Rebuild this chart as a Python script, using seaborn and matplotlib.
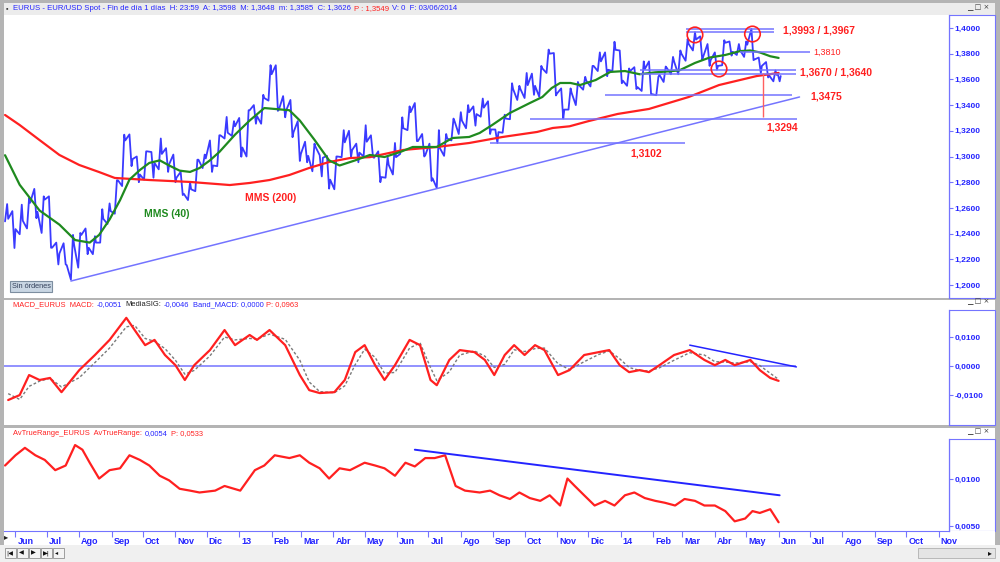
import matplotlib
matplotlib.use('Agg')
import matplotlib.pyplot as plt
import matplotlib.transforms as mtransforms
from matplotlib.patches import Rectangle
from matplotlib.ticker import FuncFormatter
import pandas as pd
import seaborn as sns

sns.set_style('white')
plt.rcParams['font.family'] = ['Liberation Sans', 'DejaVu Sans']

# ---- weekly bars EUR/USD ----
week_end = pd.date_range('2012-05-25', '2014-05-30', freq='W-FRI').append(pd.DatetimeIndex(['2014-06-03']))
week_high = [
    1.2630,
    1.2575, 1.2625, 1.2675, 1.2748, 1.2690,
    1.2690, 1.2330, 1.2325, 1.2390,
    1.2405, 1.2440, 1.2380, 1.2590, 1.2635,
    1.2815, 1.3170, 1.3172, 1.3000,
    1.3040, 1.3035, 1.3140, 1.3065,
    1.3015, 1.2880, 1.2800, 1.2975, 1.3015,
    1.3125, 1.3165, 1.3308, 1.3275,
    1.3300, 1.3360, 1.3400, 1.3480,
    1.3711, 1.3710, 1.3470, 1.3440,
    1.3275, 1.3115, 1.3100, 1.3010, 1.3005,
    1.3000, 1.3205, 1.3200, 1.3100,
    1.3243, 1.3165, 1.3040, 1.2995, 1.3105,
    1.3305, 1.3390, 1.3416, 1.3175,
    1.3100, 1.3205, 1.3175, 1.3295,
    1.3345, 1.3400, 1.3390, 1.3451, 1.3430,
    1.3210, 1.3325, 1.3570, 1.3550,
    1.3650, 1.3645, 1.3705, 1.3832,
    1.3805, 1.3530, 1.3530, 1.3580, 1.3620,
    1.3705, 1.3810, 1.3810, 1.3893,
    1.3825, 1.3685, 1.3695, 1.3740, 1.3740,
    1.3620, 1.3700, 1.3775, 1.3825,
    1.3915, 1.3967, 1.3935, 1.3875,
    1.3810, 1.3905, 1.3895, 1.3875,
    1.3895, 1.3993, 1.3770, 1.3735, 1.3670,
    1.3650,
]
week_low = [
    1.2495,
    1.2288, 1.2395, 1.2440, 1.2520, 1.2405,
    1.2290, 1.2160, 1.2160, 1.2042,
    1.2135, 1.2240, 1.2240, 1.2330, 1.2475,
    1.2555, 1.2770, 1.2925, 1.2800,
    1.2820, 1.2835, 1.2900, 1.2880,
    1.2800, 1.2700, 1.2661, 1.2730, 1.2910,
    1.2880, 1.2925, 1.3140, 1.3160,
    1.2998, 1.3000, 1.3255, 1.3255,
    1.3435, 1.3355, 1.3305, 1.3150,
    1.2965, 1.2955, 1.2885, 1.2845, 1.2750,
    1.2745, 1.2995, 1.2995, 1.2955,
    1.3000, 1.2995, 1.2800, 1.2835, 1.2860,
    1.3020, 1.3205, 1.3120, 1.3000,
    1.2810, 1.2755, 1.3005, 1.3125,
    1.3175, 1.3220, 1.3240, 1.3310, 1.3175,
    1.3105, 1.3185, 1.3290, 1.3440,
    1.3455, 1.3480, 1.3465, 1.3650,
    1.3475, 1.3295, 1.3365, 1.3400, 1.3520,
    1.3545, 1.3665, 1.3625, 1.3665,
    1.3570, 1.3550, 1.3525, 1.3510, 1.3485,
    1.3477, 1.3580, 1.3640, 1.3640,
    1.3745, 1.3825, 1.3750, 1.3705,
    1.3675, 1.3710, 1.3785, 1.3790,
    1.3775, 1.3750, 1.3650, 1.3615, 1.3585,
    1.3585,
]
week_close = [
    1.2515,
    1.2435, 1.2500, 1.2640, 1.2570, 1.2665,
    1.2290, 1.2245, 1.2155, 1.2315,
    1.2390, 1.2290, 1.2330, 1.2515, 1.2575,
    1.2815, 1.3125, 1.2980, 1.2860,
    1.3040, 1.2950, 1.3020, 1.2940,
    1.2835, 1.2710, 1.2745, 1.2975, 1.2985,
    1.2930, 1.3165, 1.3185, 1.3235,
    1.3070, 1.3360, 1.3315, 1.3455,
    1.3640, 1.3365, 1.3360, 1.3190,
    1.3020, 1.3005, 1.3075, 1.2990, 1.2820,
    1.3000, 1.3110, 1.3050, 1.3030,
    1.3115, 1.2990, 1.2840, 1.2935, 1.2995,
    1.3220, 1.3345, 1.3120, 1.3010,
    1.2830, 1.3065, 1.3140, 1.3275,
    1.3280, 1.3345, 1.3330, 1.3380, 1.3210,
    1.3190, 1.3295, 1.3525, 1.3525,
    1.3555, 1.3550, 1.3685, 1.3800,
    1.3490, 1.3365, 1.3495, 1.3555, 1.3590,
    1.3705, 1.3740, 1.3675, 1.3830,
    1.3590, 1.3665, 1.3540, 1.3680, 1.3485,
    1.3635, 1.3690, 1.3740, 1.3800,
    1.3875, 1.3910, 1.3780, 1.3750,
    1.3705, 1.3885, 1.3815, 1.3830,
    1.3870, 1.3755, 1.3705, 1.3630, 1.3635,
    1.3626,
]

# ---- moving averages ----
mms40_dates = [
    '2012-05-22', '2012-06-05', '2012-06-24', '2012-07-13', '2012-07-28', '2012-08-11',
    '2012-08-20', '2012-08-30', '2012-09-09', '2012-09-18', '2012-09-28', '2012-10-07',
    '2012-10-17', '2012-10-26', '2012-11-05', '2012-11-15', '2012-11-24', '2012-12-04',
    '2012-12-13', '2012-12-28', '2013-01-11', '2013-01-25', '2013-02-18', '2013-02-28',
    '2013-03-14', '2013-03-28', '2013-04-07', '2013-04-22', '2013-05-06', '2013-05-20',
    '2013-06-04', '2013-06-16', '2013-07-09', '2013-07-24', '2013-08-09', '2013-08-19',
    '2013-08-31', '2013-09-17', '2013-10-06', '2013-10-18', '2013-10-27', '2013-11-04',
    '2013-11-14', '2013-11-23', '2013-12-08', '2013-12-22', '2014-01-05', '2014-01-19',
    '2014-02-03', '2014-02-12', '2014-02-26', '2014-03-13', '2014-03-27', '2014-04-11',
    '2014-04-25', '2014-05-05', '2014-05-14', '2014-05-24', '2014-06-01',
]
mms40_values = [
    1.3010, 1.2780, 1.2580, 1.2470, 1.2350, 1.2330,
    1.2390, 1.2510, 1.2660, 1.2820, 1.2895, 1.2950,
    1.2970, 1.2930, 1.2890, 1.2880, 1.2910, 1.2970,
    1.3035, 1.3170, 1.3280, 1.3377, 1.3360, 1.3280,
    1.3130, 1.2970, 1.2930, 1.2970, 1.3012, 1.2996,
    1.3035, 1.3074, 1.3074, 1.3144, 1.3152, 1.3183,
    1.3245, 1.3339, 1.3416, 1.3463, 1.3533, 1.3572,
    1.3572, 1.3556, 1.3595, 1.3658, 1.3665, 1.3640,
    1.3655, 1.3660, 1.3670, 1.3728, 1.3770, 1.3790,
    1.3820, 1.3825, 1.3810, 1.3780, 1.3767,
]
mms200_dates = [
    '2012-05-22', '2012-06-05', '2012-06-24', '2012-07-13', '2012-08-01', '2012-08-20',
    '2012-09-04', '2012-10-07', '2012-11-15', '2012-12-23', '2013-01-11', '2013-01-30',
    '2013-02-18', '2013-03-09', '2013-03-28', '2013-04-17', '2013-05-06', '2013-06-07',
    '2013-07-09', '2013-08-09', '2013-09-10', '2013-10-13', '2013-10-28', '2013-11-13',
    '2013-12-01', '2013-12-29', '2014-01-28', '2014-03-07', '2014-04-05', '2014-05-11',
    '2014-06-01',
]
mms200_values = [
    1.3323, 1.3245, 1.3128, 1.3012, 1.2934, 1.2879,
    1.2833, 1.2817, 1.2802, 1.2778, 1.2794, 1.2817,
    1.2856, 1.2911, 1.2957, 1.2988, 1.2995, 1.3051,
    1.3074, 1.3105, 1.3152, 1.3191, 1.3222, 1.3235,
    1.3275, 1.3331, 1.3370, 1.3463, 1.3556, 1.3626,
    1.3650,
]

# ---- MACD panel ----
macd_dates = [
    '2012-05-25', '2012-06-05', '2012-06-14', '2012-06-24', '2012-07-04', '2012-07-15',
    '2012-08-01', '2012-08-16', '2012-08-30', '2012-09-15', '2012-09-23', '2012-10-03',
    '2012-10-12', '2012-10-22', '2012-11-01', '2012-11-10', '2012-11-19', '2012-12-04',
    '2012-12-18', '2012-12-28', '2013-01-11', '2013-01-18', '2013-01-30', '2013-02-14',
    '2013-02-28', '2013-03-09', '2013-03-19', '2013-04-02', '2013-04-12', '2013-04-22',
    '2013-05-01', '2013-05-11', '2013-05-20', '2013-05-30', '2013-06-13', '2013-06-23',
    '2013-07-03', '2013-07-09', '2013-07-21', '2013-07-31', '2013-08-14', '2013-08-24',
    '2013-09-02', '2013-09-12', '2013-09-21', '2013-10-01', '2013-10-11', '2013-10-20',
    '2013-11-02', '2013-11-13', '2013-11-27', '2013-12-11', '2013-12-21', '2013-12-31',
    '2014-01-09', '2014-01-19', '2014-01-28', '2014-02-07', '2014-02-21', '2014-03-08',
    '2014-03-22', '2014-04-01', '2014-04-11', '2014-04-20', '2014-05-05', '2014-05-14',
    '2014-05-24', '2014-06-01',
]
macd_values = [
    -0.0117, -0.0100, -0.0031, -0.0048, -0.0041, -0.0090,
    -0.0014, 0.0038, 0.0090, 0.0166, 0.0124, 0.0072,
    0.0090, 0.0038, 0.0003, -0.0048, 0.0003, 0.0055,
    0.0124, 0.0072, 0.0107, 0.0090, 0.0124, 0.0072,
    -0.0031, -0.0083, -0.0093, -0.0090, -0.0048, 0.0048,
    0.0072, 0.0003, -0.0048, 0.0003, 0.0090, 0.0072,
    -0.0048, -0.0066, 0.0021, 0.0055, 0.0048, 0.0021,
    -0.0031, 0.0038, 0.0072, 0.0038, 0.0072, 0.0055,
    -0.0031, -0.0014, 0.0038, 0.0048, 0.0055, 0.0003,
    -0.0021, -0.0014, -0.0021, 0.0003, 0.0038, 0.0055,
    0.0021, 0.0003, 0.0021, 0.0003, 0.0021, -0.0014,
    -0.0041, -0.0051,
]
signal_values = [
    -0.0095, -0.0115, -0.0070, -0.0052, -0.0042, -0.0072,
    -0.0040, 0.0012, 0.0062, 0.0135, 0.0140, 0.0095,
    0.0085, 0.0060, 0.0020, -0.0028, -0.0015, 0.0035,
    0.0100, 0.0090, 0.0095, 0.0093, 0.0110, 0.0092,
    0.0020, -0.0055, -0.0088, -0.0092, -0.0068, 0.0005,
    0.0058, 0.0030, -0.0025, -0.0022, 0.0062, 0.0080,
    -0.0005, -0.0050, -0.0020, 0.0038, 0.0052, 0.0034,
    -0.0005, 0.0006, 0.0056, 0.0050, 0.0060, 0.0062,
    0.0008, -0.0012, 0.0015, 0.0040, 0.0052, 0.0025,
    -0.0005, -0.0015, -0.0017, -0.0006, 0.0020, 0.0046,
    0.0038, 0.0015, 0.0014, 0.0010, 0.0015, 0.0002,
    -0.0025, -0.0046,
]

# ---- ATR panel ----
atr_dates = [
    '2012-05-22', '2012-06-01', '2012-06-10', '2012-06-20', '2012-06-29', '2012-07-09',
    '2012-07-19', '2012-07-28', '2012-08-04', '2012-08-11', '2012-08-20', '2012-08-30',
    '2012-09-09', '2012-09-18', '2012-09-28', '2012-10-07', '2012-10-17', '2012-10-26',
    '2012-11-05', '2012-11-15', '2012-11-24', '2012-12-09', '2012-12-18', '2013-01-02',
    '2013-01-16', '2013-01-25', '2013-02-04', '2013-02-18', '2013-02-28', '2013-03-09',
    '2013-03-19', '2013-03-28', '2013-04-07', '2013-04-17', '2013-05-01', '2013-05-11',
    '2013-05-20', '2013-05-30', '2013-06-09', '2013-06-18', '2013-06-28', '2013-07-07',
    '2013-07-17', '2013-07-27', '2013-08-05', '2013-08-19', '2013-08-29', '2013-09-07',
    '2013-09-17', '2013-09-26', '2013-10-06', '2013-10-16', '2013-10-25', '2013-11-04',
    '2013-11-11', '2013-11-18', '2013-11-27', '2013-12-07', '2013-12-17', '2013-12-26',
    '2014-01-05', '2014-01-14', '2014-01-24', '2014-02-03', '2014-02-12', '2014-02-22',
    '2014-03-03', '2014-03-13', '2014-03-22', '2014-04-01', '2014-04-11', '2014-04-20',
    '2014-04-30', '2014-05-07', '2014-05-14', '2014-05-24', '2014-06-01',
]
atr_values = [
    0.0115, 0.0126, 0.0134, 0.0126, 0.0121, 0.0110,
    0.0115, 0.0137, 0.0132, 0.0118, 0.0101, 0.0110,
    0.0112, 0.0126, 0.0121, 0.0115, 0.0104, 0.0099,
    0.0090, 0.0088, 0.0086, 0.0088, 0.0093, 0.0088,
    0.0110, 0.0115, 0.0126, 0.0123, 0.0126, 0.0118,
    0.0112, 0.0101, 0.0112, 0.0110, 0.0118, 0.0115,
    0.0112, 0.0104, 0.0118, 0.0114, 0.0123, 0.0123,
    0.0126, 0.0093, 0.0088, 0.0086, 0.0088, 0.0083,
    0.0079, 0.0086, 0.0080, 0.0077, 0.0083, 0.0072,
    0.0101, 0.0093, 0.0083, 0.0072, 0.0077, 0.0072,
    0.0083, 0.0086, 0.0080, 0.0077, 0.0075, 0.0072,
    0.0079, 0.0077, 0.0072, 0.0072, 0.0066, 0.0055,
    0.0058, 0.0066, 0.0064, 0.0068, 0.0054,
]

# ---- drawn analysis (lines, levels, circles) ----
support_dates = ['2012-07-24', '2014-06-21']
support_values = [1.2031, 1.3463]
level_values = [1.3993, 1.3967, 1.3810, 1.3670, 1.3640, 1.3475, 1.3294, 1.3102]
level_start = ['2014-03-04', '2014-03-04', '2014-04-25', '2014-01-19', '2014-01-19',
               '2013-12-17', '2013-10-06', '2013-08-29']
level_end = ['2014-05-28', '2014-05-28', '2014-07-01', '2014-06-18', '2014-06-18',
             '2014-06-14', '2014-06-19', '2014-03-03']
circle_dates = ['2014-03-13', '2014-05-07', '2014-04-05']
circle_values = [1.3946, 1.3953, 1.3681]
target_date = '2014-05-17'
target_values = [1.3650, 1.3307]
macd_trend_dates = ['2014-03-08', '2014-06-18']
macd_trend_values = [0.0072, -0.0003]
atr_trend_dates = ['2013-06-18', '2014-06-02']
atr_trend_values = [0.0132, 0.0083]

month_ticks = pd.date_range('2012-06-01', '2014-11-01', freq='MS')
month_labels = ['Jun', 'Jul', 'Ago', 'Sep', 'Oct', 'Nov', 'Dic',
                '13', 'Feb', 'Mar', 'Abr', 'May', 'Jun', 'Jul', 'Ago', 'Sep', 'Oct', 'Nov', 'Dic',
                '14', 'Feb', 'Mar', 'Abr', 'May', 'Jun', 'Jul', 'Ago', 'Sep', 'Oct', 'Nov']

BLUE = '#2424ff'
LINE_BLUE = '#7474ff'
RED = '#ff2020'
GREEN = '#1f8a1f'
W, H = 1000, 562

fig = plt.figure(figsize=(10, 5.62), dpi=100, facecolor='#b4b4b4')


def px_box(x0, y0, x1, y1):
    return [x0 / W, 1 - y1 / H, (x1 - x0) / W, (y1 - y0) / H]


def frect(x0, y0, x1, y1, fc, ec='none', lw=0.8):
    fig.add_artist(Rectangle((x0 / W, 1 - y1 / H), (x1 - x0) / W, (y1 - y0) / H,
                             transform=fig.transFigure, facecolor=fc, edgecolor=ec,
                             linewidth=lw, zorder=-1))


def ftext(x, y, s, **kw):
    kw.setdefault('fontsize', 5.3)
    return fig.text(x / W, 1 - y / H, s, va='center', ha='left', **kw)


def header(x, y, parts, size=5.4, gap=3):
    # write coloured pieces one after another, like the platform's caption line
    renderer = fig.canvas.get_renderer()
    for s, c in parts:
        t = ftext(x, y, s, color=c, fontsize=size)
        x = t.get_window_extent(renderer).x1 + gap


# window frames
frect(4, 3, 995, 15, '#ececec')
frect(949, 15, 995, 298, 'white', ec=LINE_BLUE)
frect(4, 300, 995, 310, 'white')
frect(949, 310, 995, 425, 'white', ec=LINE_BLUE)
frect(4, 428, 995, 439, 'white')
frect(949, 439, 995, 531, 'white', ec=LINE_BLUE)
frect(4, 531, 995, 545, 'white')
frect(0, 545, 1000, 562, '#f0f0f0')

ax = fig.add_axes(px_box(4, 15, 949, 298))
ax_macd = fig.add_axes(px_box(4, 310, 949, 425), sharex=ax)
ax_atr = fig.add_axes(px_box(4, 439, 949, 531), sharex=ax)

# intra-week path: extremes in the order the week moved, then the close
path_dates, path_values = [], []
prev = week_close[0]
for d, hi, lo, cl in zip(week_end, week_high, week_low, week_close):
    first, second = (lo, hi) if cl >= prev else (hi, lo)
    path_dates += [d - pd.Timedelta(days=3), d - pd.Timedelta(days=1), d]
    path_values += [first, second, cl]
    prev = cl
price = pd.DataFrame({'date': path_dates, 'v': path_values})
mms40 = pd.DataFrame({'date': pd.to_datetime(mms40_dates), 'v': mms40_values})
mms200 = pd.DataFrame({'date': pd.to_datetime(mms200_dates), 'v': mms200_values})
macd = pd.DataFrame({'date': pd.to_datetime(macd_dates), 'macd': macd_values, 'sig': signal_values})
atr = pd.DataFrame({'date': pd.to_datetime(atr_dates), 'v': atr_values})

# price panel
sns.lineplot(data=price, x='date', y='v', ax=ax, color='#3a3aff', lw=1.3, estimator=None)
sns.lineplot(data=mms200, x='date', y='v', ax=ax, color=RED, lw=1.6, estimator=None)
sns.lineplot(data=mms40, x='date', y='v', ax=ax, color=GREEN, lw=1.6, estimator=None)
ax.plot(pd.to_datetime(support_dates), support_values, color=LINE_BLUE, lw=1.1)
ax.hlines(level_values, pd.to_datetime(level_start), pd.to_datetime(level_end), color=LINE_BLUE, lw=1.1)
ax.vlines(pd.Timestamp(target_date), target_values[1], target_values[0], color='#ff6060', lw=1)
ax.scatter(pd.to_datetime(circle_dates), circle_values, s=125, facecolors='none',
           edgecolors=RED, linewidths=1.2, zorder=5)

lab = dict(color=RED, fontsize=7.5, fontweight='bold', va='center', ha='left')
ax.text(pd.Timestamp('2014-06-05'), 1.3984, '1,3993 / 1,3967', **lab)
ax.text(pd.Timestamp('2014-07-04'), 1.3813, '1,3810', color=RED, fontsize=6.5, va='center', ha='left')
ax.text(pd.Timestamp('2014-06-21'), 1.3656, '1,3670 / 1,3640', **lab)
ax.text(pd.Timestamp('2014-07-01'), 1.3470, '1,3475', **lab)
ax.text(pd.Timestamp('2014-05-20'), 1.3222, '1,3294', **lab)
ax.text(pd.Timestamp('2014-01-10'), 1.3027, '1,3102', **lab)
ax.text(pd.Timestamp('2012-10-24'), 1.2553, 'MMS (40)', color=GREEN, fontsize=7.5,
        fontweight='bold', va='center', ha='center')
ax.text(pd.Timestamp('2013-01-31'), 1.2677, 'MMS (200)', color=RED, fontsize=7.5,
        fontweight='bold', va='center', ha='center')
ax.text(0.008, 0.04, 'Sin órdenes', transform=ax.transAxes, fontsize=5.3, color='#33405a',
        va='center', ha='left',
        bbox=dict(boxstyle='square,pad=0.25', fc='#c9d6e3', ec='#7d8ea0', lw=0.8))
ax.set_ylim(1.1899, 1.4101)
ax.set_yticks([1.20 + 0.02 * i for i in range(11)])
ax.yaxis.set_major_formatter(FuncFormatter(lambda v, p: f'{v:.4f}'.replace('.', ',')))

# MACD panel
ax_macd.hlines(0, pd.Timestamp('2012-05-21'), pd.Timestamp('2014-06-18'), color=LINE_BLUE, lw=1.1)
sns.lineplot(data=macd, x='date', y='sig', ax=ax_macd, color='#7a7a7a', lw=1.0,
             linestyle=(0, (2, 1.5)), estimator=None)
sns.lineplot(data=macd, x='date', y='macd', ax=ax_macd, color=RED, lw=1.6, estimator=None)
ax_macd.plot(pd.to_datetime(macd_trend_dates), macd_trend_values, color=BLUE, lw=1.1)
ax_macd.set_ylim(-0.0203, 0.0193)
ax_macd.set_yticks([-0.01, 0.0, 0.01])
ax_macd.yaxis.set_major_formatter(FuncFormatter(lambda v, p: f'{v:.4f}'.replace('.', ',')))

# ATR panel
sns.lineplot(data=atr, x='date', y='v', ax=ax_atr, color=RED, lw=1.6, estimator=None)
ax_atr.plot(pd.to_datetime(atr_trend_dates), atr_trend_values, color=BLUE, lw=1.4)
ax_atr.set_ylim(0.00446, 0.01435)
ax_atr.set_yticks([0.005, 0.01])
ax_atr.yaxis.set_major_formatter(FuncFormatter(lambda v, p: f'{v:.4f}'.replace('.', ',')))

for a in (ax, ax_macd, ax_atr):
    a.set_facecolor('white')
    a.set_xlabel('')
    a.set_ylabel('')
    for side in ('top', 'left', 'bottom'):
        a.spines[side].set_visible(False)
    a.spines['right'].set_color(LINE_BLUE)
    a.spines['right'].set_linewidth(0.9)
    a.yaxis.tick_right()
    a.tick_params(axis='y', direction='out', length=3, width=0.8, color=LINE_BLUE,
                  labelcolor=BLUE, labelsize=6, pad=1)
    for t in a.get_yticklabels():
        t.set_fontweight('bold')
    a.tick_params(axis='x', bottom=False, labelbottom=False)

ax.set_xlim(pd.Timestamp('2012-05-21'), pd.Timestamp('2014-11-11'))

ax_atr.spines['bottom'].set_visible(True)
ax_atr.spines['bottom'].set_color(LINE_BLUE)
ax_atr.set_xticks(month_ticks)
ax_atr.set_xticklabels(month_labels)
ax_atr.tick_params(axis='x', bottom=True, labelbottom=True, direction='out', length=4,
                   width=0.8, color=LINE_BLUE, labelcolor=BLUE, labelsize=6.5, pad=0.5)
shift = mtransforms.ScaledTranslation(2 / 100, 0, fig.dpi_scale_trans)
for t in ax_atr.get_xticklabels():
    t.set_ha('left')
    t.set_fontweight('bold')
    t.set_transform(t.get_transform() + shift)

# header strips
ftext(6, 8.5, '▪', color='#404040', fontsize=5)
header(13, 8.5, [('EURUS - EUR/USD Spot - Fin de día 1 días  H: 23:59  A: 1,3598  M: 1,3648  m: 1,3585  C: 1,3626', BLUE),
                 ('P : 1,3549', RED), ('V: 0  F: 03/06/2014', BLUE)], size=5.55)
header(13, 304.5, [('MACD_EURUS  MACD:', RED), ('-0,0051', BLUE), ('MediaSIG:', '#202020'),
                   ('-0,0046', BLUE), ('Band_MACD: 0,0000', BLUE), ('P: 0,0963', RED)])
header(13, 433.5, [('AvTrueRange_EURUS  AvTrueRange:', RED), ('0,0054', BLUE), ('P: 0,0533', RED)])

for yb in (8, 302, 432):
    ftext(967, yb, '▁ □ ×', color='#404040', fontsize=5, family=['DejaVu Sans'])

# navigation bar
ftext(4, 537, '▸', color='#202020', fontsize=6, family=['DejaVu Sans'])
for i, g in enumerate(['|◀', '◀', '▶', '▶|', '◂']):
    frect(5 + 12 * i, 548, 16 + 12 * i, 558, '#f4f4f4', ec='#909090', lw=0.6)
    ftext(6.5 + 12 * i, 553, g, color='#101010', fontsize=4.5, family=['DejaVu Sans'])
frect(918, 548, 995, 558, '#e4e4e4', ec='#b0b0b0', lw=0.6)
ftext(988, 553, '▸', color='#101010', fontsize=5.5, family=['DejaVu Sans'])

fig.savefig('out.png', dpi=100, facecolor=fig.get_facecolor())
